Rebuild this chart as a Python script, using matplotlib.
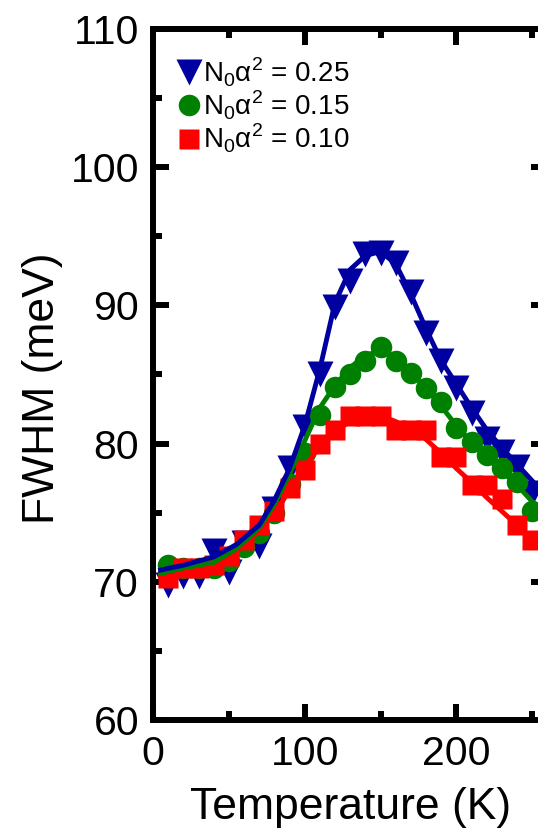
import numpy as np
from matplotlib import pyplot as plt

plt.rcParams['font.family'] = ['Liberation Sans', 'DejaVu Sans']
plt.rcParams['mathtext.fontset'] = 'custom'
plt.rcParams['mathtext.rm'] = 'Liberation Sans'

# measured points (K, meV)
temp = [10, 20, 30, 40, 50, 60, 70, 80, 90, 100, 110, 120, 130,
        140, 150, 160, 170, 180, 190, 200, 210, 220, 230, 240, 250]
fwhm_025 = [69.8, 70.4, 70.4, 72.2, 70.7, 72.8, 72.6, 75.3, 78.2, 81.2, 85.0, 89.9, 91.8,
            93.7, 93.8, 93.1, 91.0, 88.0, 86.0, 84.0, 82.2, 80.3, 79.4, 78.3, 76.4]
fwhm_015 = [71.2, 71.0, 71.0, 71.0, 71.5, 72.5, 73.5, 75.0, 77.1, 79.3, 82.1, 84.1, 85.0,
            86.0, 87.0, 86.0, 85.1, 84.0, 83.0, 81.1, 80.1, 79.2, 78.2, 77.2, 75.1]
fwhm_010 = [70.3, 71.0, 71.0, 71.2, 71.9, 73.0, 74.1, 75.1, 76.8, 78.1, 80.0, 81.0, 82.0,
            82.0, 82.0, 81.0, 81.0, 81.0, 79.0, 79.0, 77.0, 77.0, 76.0, 74.1, 73.0]

# calculated curves
temp_fit = [5, 20, 40, 55, 70, 80, 90, 100, 110, 120, 130, 140, 150,
            160, 170, 180, 190, 200, 210, 220, 230, 240, 250, 260]
fit_025 = [70.85, 71.2, 71.8, 72.7, 74.1, 75.9, 78.2, 81.3, 85.4, 90.2, 92.6, 93.6, 93.9,
           93.0, 90.8, 88.3, 86.0, 84.3, 82.6, 81.0, 79.7, 78.5, 77.3, 76.2]
fit_015 = [70.6, 71.0, 71.4, 72.4, 73.9, 75.6, 77.8, 80.2, 82.6, 84.2, 85.5, 86.4, 86.7,
           86.2, 85.2, 84.0, 82.7, 81.3, 80.1, 79.0, 78.0, 77.0, 75.8, 74.8]
fit_010 = [70.4, 70.9, 71.3, 72.2, 73.7, 75.0, 76.6, 78.3, 79.8, 80.9, 81.6, 82.0, 82.0,
           81.6, 81.0, 80.3, 79.3, 78.2, 77.2, 76.1, 75.1, 74.1, 73.1, 72.2]

labels = [r'N$_\mathregular{0}$α$^\mathregular{2}$ = 0.25',
          r'N$_\mathregular{0}$α$^\mathregular{2}$ = 0.15',
          r'N$_\mathregular{0}$α$^\mathregular{2}$ = 0.10']
colors = ['#0000A0', '#008000', '#FF0000']

fig = plt.figure(figsize=(5.38, 8.31), dpi=100)
ax = fig.add_axes([153/538, 1-720/831, 394.4/538, 691/831])

ax.plot(temp, fwhm_025, 'v', ms=19, color=colors[0], mec='none', label=labels[0], zorder=2)
ax.plot(temp, fwhm_015, 'o', ms=15.5, color=colors[1], mec='none', label=labels[1], zorder=3)
ax.plot(temp, fwhm_010, 's', ms=14.5, color=colors[2], mec='none', label=labels[2], zorder=4)
ax.plot(temp_fit, fit_010, '-', lw=3.5, color=colors[2], zorder=5)
ax.plot(temp_fit, fit_015, '-', lw=3.5, color=colors[1], zorder=6)
ax.plot(temp_fit, fit_025, '-', lw=3.5, color=colors[0], zorder=7)

ax.set_xlim(0, 260)
ax.set_ylim(60, 110)
ax.set_xticks([0, 100, 200])
ax.set_xticks([50, 150, 250], minor=True)
ax.set_yticks(np.arange(60, 111, 10))
ax.set_yticks(np.arange(65, 110, 10), minor=True)

for s in ax.spines.values():
    s.set_linewidth(4.3)
ax.tick_params(which='both', direction='in', top=True, right=True, width=4.3, labelsize=29.5)
ax.tick_params(which='major', length=11.5)
ax.tick_params(which='minor', length=6.5)
ax.tick_params(axis='x', pad=11)
ax.tick_params(axis='y', pad=10)

ax.set_xlabel('Temperature (K)', fontsize=32, labelpad=10)
ax.set_ylabel('FWHM (meV)', fontsize=32)
ax.yaxis.set_label_coords(-0.228, 0.48)

leg = ax.legend(loc='upper left', bbox_to_anchor=(0.06, 0.962), frameon=False,
                fontsize=20, handlelength=0.9, handletextpad=0.05,
                labelspacing=0.0, borderpad=0, borderaxespad=0)

fig.savefig('out.png', dpi=100)
